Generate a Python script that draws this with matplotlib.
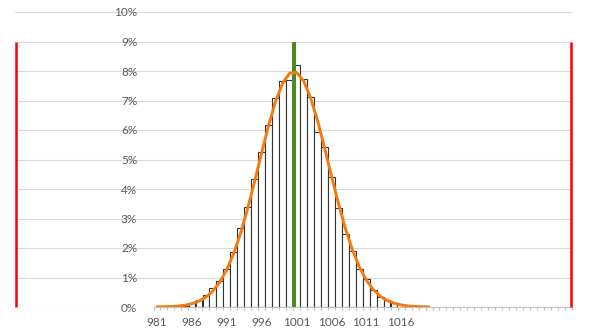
import matplotlib.pyplot as plt
from matplotlib.ticker import FixedLocator

plt.rcParams['font.family'] = ['Lato', 'DejaVu Sans']

# measured distribution, share of parts per size class (%)
bin_centers = list(range(985, 1016))
bin_share = [0.05, 0.15, 0.24, 0.40, 0.66, 0.88, 1.28, 1.85, 2.67, 3.38, 4.35,
             5.27, 6.16, 7.10, 7.66, 7.70, 8.19, 7.74, 7.11, 5.94, 5.42, 4.42,
             3.35, 2.49, 1.90, 1.28, 0.94, 0.57, 0.35, 0.24, 0.15]

# fitted normal density, one point per size class (%)
fit_x = list(range(981, 1021))
fit_y = [0.004, 0.008, 0.016, 0.032, 0.061, 0.112, 0.197, 0.333, 0.541, 0.843,
         1.263, 1.818, 2.513, 3.339, 4.262, 5.226, 6.157, 6.970, 7.581, 7.921,
         7.953, 7.672, 7.111, 6.332, 5.417, 4.453, 3.517, 2.669, 1.946, 1.363,
         0.917, 0.593, 0.368, 0.220, 0.126, 0.070, 0.037, 0.019, 0.009, 0.004]

mean_value = 1000.64
lower_limit = 960.75
upper_limit = 1040.4
marker_height = 9

category_first = 981
category_last = 1040
label_ticks = list(range(981, 1017, 5))
y_ticks = list(range(0, 11))

text_color = '#595959'

fig = plt.figure(figsize=(5.91, 3.35), dpi=100)
ax = fig.add_axes([15 / 591, 28 / 335, 557 / 591, 295 / 335])

ax.bar(bin_centers, bin_share, width=0.95, color='white', edgecolor='#333333',
       linewidth=0.8, zorder=2)
ax.vlines(mean_value, 0, marker_height, color='#4E8A1E', linewidth=2.9, zorder=3)
ax.plot(fit_x, fit_y, color='#F57A10', linewidth=2.1, zorder=4,
        solid_capstyle='round')
ax.vlines([lower_limit, upper_limit], 0, marker_height, color='#FF0000',
          linewidth=1.8, zorder=5, clip_on=False)

ax.set_xlim(960.64, 1040.5)
ax.set_ylim(0, 10)

# horizontal gridlines with the percent labels floating inside the plot
ax.set_yticks(y_ticks)
ax.set_yticklabels([f'{v}%' for v in y_ticks])
ax.grid(axis='y', color='#d9d9d9', linewidth=0.8, zorder=0)
ax.set_axisbelow(True)
ax.spines['left'].set_position(('data', 978.15))
ax.spines['left'].set_visible(False)
ax.tick_params(axis='y', length=0, pad=0, labelsize=8.5, labelcolor=text_color)

# category axis only under the histogram part
for side in ('top', 'right'):
    ax.spines[side].set_visible(False)
ax.spines['bottom'].set_bounds(category_first - 0.5, category_last + 0.5)
ax.spines['bottom'].set_color('#bfbfbf')
ax.spines['bottom'].set_linewidth(0.8)
ax.set_xticks(label_ticks)
ax.set_xticklabels([str(v) for v in label_ticks])
ax.xaxis.set_minor_locator(FixedLocator(
    [c + 0.5 for c in range(category_first - 1, category_last + 1)]))
ax.tick_params(axis='x', which='major', length=0, pad=7.2, labelsize=8.5,
               labelcolor=text_color)
ax.tick_params(axis='x', which='minor', length=2.2, width=0.8, color='#bfbfbf')

fig.savefig('out.png', dpi=100)
